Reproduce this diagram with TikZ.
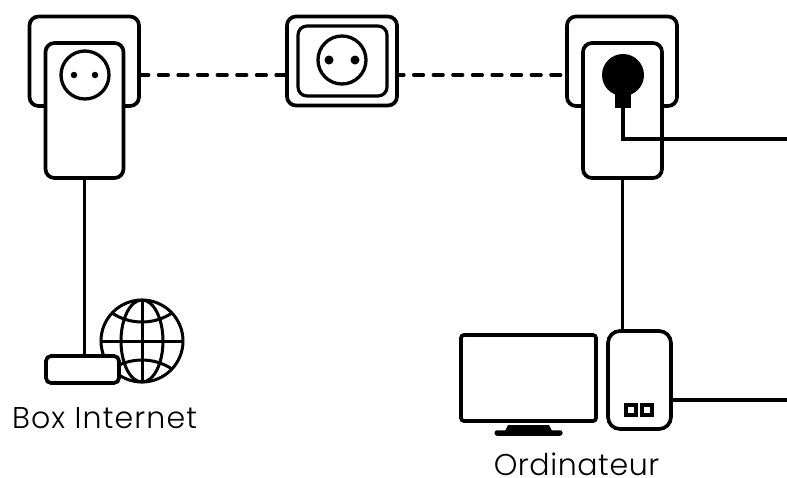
\documentclass[tikz,border=0pt]{standalone}
\usepackage{fontspec}
\setmainfont[LetterSpace=2.0]{Poppins Light}
\usetikzlibrary{calc}
\tikzset{
  x=1pt,y=-1pt,
  shell/.style={draw=black,fill=white,line width=3.7pt,rounded corners=9pt,inner sep=0pt,outer sep=0pt,anchor=north west},
  thin shell/.style={shell,line width=3.2pt},
  wire/.style={draw=black,line width=3.9pt},
  linkdash/.style={draw=black,line width=3.6pt,line cap=round,dash pattern=on 9.6pt off 10pt},
  socketc/.style={circle,draw=black,fill=white,line width=3.3pt,inner sep=0pt,outer sep=0pt,minimum size=48pt},
  pin/.style={circle,fill=black,inner sep=0pt,outer sep=0pt},
  caption/.style={font=\fontsize{30pt}{34pt}\selectfont,inner sep=0pt,anchor=base},
  globeline/.style={draw=black,line width=3pt},
}
\newcommand{\shellnode}[6][shell]{\node[#1,minimum width=#5pt,minimum height=#6pt] (#2) at (#3,#4) {};}
\begin{document}
\begin{tikzpicture}
\useasboundingbox (0,0) rectangle (787,477);
\fill[white] (0,0) rectangle (787,477);
% links (drawn first, ends hidden by the shells)
\coordinate (linkL) at (139,75);
\coordinate (linkM) at (287,75);
\coordinate (linkN) at (397,75);
\coordinate (linkR) at (567,75);
\draw[linkdash] (linkL) -- (linkM);
\draw[linkdash,dash phase=2.8pt] (linkN) -- (linkR);
% left adapter
\shellnode{backL}{29.5}{16.5}{109.5}{89.5}
\shellnode{frontL}{45.5}{43}{78}{135}
\node[socketc] (sockL) at (85,75) {};
\node[pin,minimum size=6.5pt] (pinLa) at (74,75) {};
\node[pin,minimum size=6.5pt] (pinLb) at (95,75) {};
% middle socket
\shellnode{backM}{287}{16.5}{110}{89}
\shellnode[thin shell]{innerM}{298}{26}{89}{70}
\node[socketc] (sockM) at (342,60) {};
\node[pin,minimum size=9pt] (pinMa) at (329,60) {};
\node[pin,minimum size=9pt] (pinMb) at (355,60) {};
% right adapter
\shellnode{backR}{567}{16.5}{110}{89.5}
\shellnode{frontR}{583}{43}{79}{135}
\node[circle,fill=black,inner sep=0pt,outer sep=0pt,minimum size=42pt] (plug) at (623,75) {};
\node[fill=black,inner sep=0pt,outer sep=0pt,minimum width=16pt,minimum height=20pt,anchor=south] (stem) at (623,108) {};
\coordinate (eastA) at (787,139);
\coordinate (eastB) at (787,400);
\draw[wire,line join=miter] (stem.south) -- (623,139) -- (eastA);
% globe
\node[circle,draw=black,line width=3pt,minimum size=82pt,inner sep=0pt,outer sep=0pt] (globe) at (142,341) {};
\draw[globeline] (globe.west) -- (globe.east);
\draw[globeline] (globe.north) -- (globe.south);
\draw[globeline] (globe.center) ellipse [x radius=21,y radius=41];
\draw[globeline] (112,313) .. controls (130,325) and (154,325) .. (172,313);
\draw[globeline] (112,369) .. controls (130,357) and (154,357) .. (172,369);
% box
\shellnode[shell,rounded corners=5pt]{box}{46}{356}{73}{27}
\draw[wire] (frontL.south) -- (box.north -| frontL.south);
\node[caption] (boxlabel) at (104.5,428) {\addfontfeature{LetterSpace=3.8}Box Internet};
% monitor
\node[shell,rounded corners=3pt,minimum width=135pt,minimum height=86pt] (monitor) at (461,335) {};
\fill[black] (505,431) -- (508,425) -- (549,425) -- (552,431) -- cycle;
\node[fill=black,rounded corners=2.5pt,inner sep=0pt,outer sep=0pt,minimum width=68pt,minimum height=5.5pt] (stand) at (528.5,433) {};
% pc
\shellnode[shell,rounded corners=12pt]{pc}{608}{331}{63}{98}
\node[draw=black,line width=3.2pt,inner sep=0pt,outer sep=0pt,minimum size=10pt] (portA) at (631,410) {};
\node[draw=black,line width=3.2pt,inner sep=0pt,outer sep=0pt,minimum size=10pt] (portB) at (647,410) {};
\draw[wire] (frontR.south) -- (pc.north -| frontR.south);
\draw[wire] (pc.east |- eastB) -- (eastB);
\node[caption] (pclabel) at (576.5,475) {Ordinateur};
\end{tikzpicture}
\end{document}
